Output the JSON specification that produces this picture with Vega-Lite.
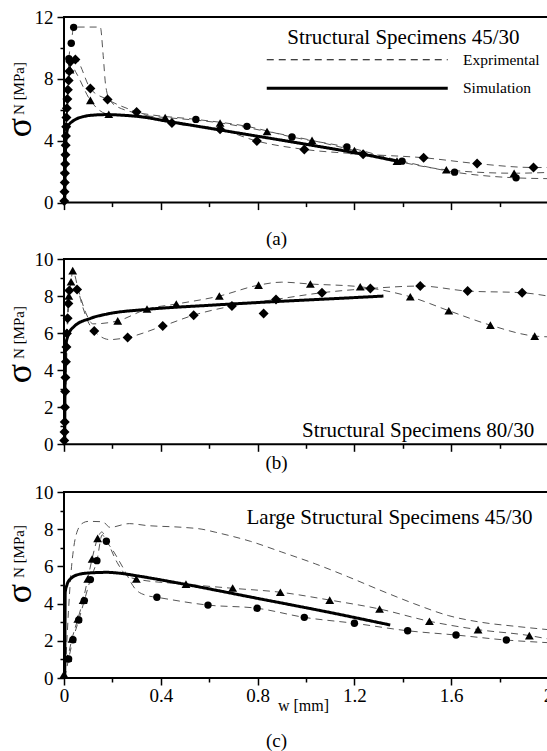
{
  "$schema": "https://vega.github.io/schema/vega-lite/v6.json",
  "background": "white",
  "padding": {"left": 0, "top": 7, "right": 0, "bottom": 0},
  "spacing": 0,
  "config": {
    "view": {"stroke": "black", "strokeWidth": 2},
    "axis": {"grid": false, "domain": false, "tickColor": "black", "tickWidth": 1.5, "labelFont": "Liberation Serif, Tinos, Times New Roman, DejaVu Serif, serif", "labelFontSize": 19, "labelColor": "black", "labelFlush": false, "labelOverlap": false, "titleFont": "Liberation Serif, Tinos, Times New Roman, DejaVu Serif, serif", "titleColor": "black", "titleFontWeight": "normal"},
    "line": {"clip": true}
  },
  "resolve": {"scale": {"strokeDash": "independent", "strokeWidth": "independent"}},
  "datasets": {
    "L": [
      {"p":"a","s":"c","w":0.003,"v":0},{"p":"a","s":"c","w":0.008,"v":3},{"p":"a","s":"c","w":0.014,"v":6},{"p":"a","s":"c","w":0.02,"v":9.3},{"p":"a","s":"c","w":0.03,"v":10.3},{"p":"a","s":"c","w":0.04,"v":11.35},{"p":"a","s":"c","w":0.15,"v":11.35},{"p":"a","s":"c","w":0.162,"v":9.5},{"p":"a","s":"c","w":0.172,"v":7.6},{"p":"a","s":"c","w":0.19,"v":6.6},{"p":"a","s":"c","w":0.25,"v":6.0},{"p":"a","s":"c","w":0.35,"v":5.7},{"p":"a","s":"c","w":0.545,"v":5.38},{"p":"a","s":"c","w":0.756,"v":4.93},{"p":"a","s":"c","w":0.942,"v":4.24},{"p":"a","s":"c","w":1.169,"v":3.59},{"p":"a","s":"c","w":1.397,"v":2.68},{"p":"a","s":"c","w":1.614,"v":1.97},{"p":"a","s":"c","w":1.868,"v":1.6},{"p":"a","s":"c","w":2.0,"v":1.55},
      {"p":"a","s":"t","w":0.002,"v":0},{"p":"a","s":"t","w":0.008,"v":3},{"p":"a","s":"t","w":0.015,"v":6},{"p":"a","s":"t","w":0.022,"v":8.2},{"p":"a","s":"t","w":0.03,"v":8.9},{"p":"a","s":"t","w":0.05,"v":8.4},{"p":"a","s":"t","w":0.109,"v":6.61},{"p":"a","s":"t","w":0.185,"v":5.71},{"p":"a","s":"t","w":0.3,"v":5.65},{"p":"a","s":"t","w":0.418,"v":5.5},{"p":"a","s":"t","w":0.645,"v":5.15},{"p":"a","s":"t","w":0.839,"v":4.6},{"p":"a","s":"t","w":1.025,"v":4.02},{"p":"a","s":"t","w":1.2,"v":3.37},{"p":"a","s":"t","w":1.376,"v":2.68},{"p":"a","s":"t","w":1.58,"v":2.12},{"p":"a","s":"t","w":1.86,"v":1.9},{"p":"a","s":"t","w":2.0,"v":1.95},
      {"p":"a","s":"d","w":0.001,"v":0},{"p":"a","s":"d","w":0.006,"v":3},{"p":"a","s":"d","w":0.012,"v":6},{"p":"a","s":"d","w":0.02,"v":8.5},{"p":"a","s":"d","w":0.03,"v":9.2},{"p":"a","s":"d","w":0.047,"v":9.25},{"p":"a","s":"d","w":0.109,"v":7.37},{"p":"a","s":"d","w":0.18,"v":6.66},{"p":"a","s":"d","w":0.3,"v":5.86},{"p":"a","s":"d","w":0.446,"v":5.14},{"p":"a","s":"d","w":0.645,"v":4.75},{"p":"a","s":"d","w":0.797,"v":3.98},{"p":"a","s":"d","w":0.993,"v":3.44},{"p":"a","s":"d","w":1.236,"v":3.13},{"p":"a","s":"d","w":1.486,"v":2.9},{"p":"a","s":"d","w":1.707,"v":2.52},{"p":"a","s":"d","w":1.94,"v":2.27},{"p":"a","s":"d","w":2.0,"v":2.27},
      {"p":"b","s":"t","w":0.002,"v":0},{"p":"b","s":"t","w":0.008,"v":3},{"p":"b","s":"t","w":0.014,"v":6},{"p":"b","s":"t","w":0.022,"v":8.0},{"p":"b","s":"t","w":0.029,"v":8.77},{"p":"b","s":"t","w":0.036,"v":9.37},{"p":"b","s":"t","w":0.06,"v":8.3},{"p":"b","s":"t","w":0.09,"v":7.1},{"p":"b","s":"t","w":0.12,"v":6.5},{"p":"b","s":"t","w":0.222,"v":6.66},{"p":"b","s":"t","w":0.343,"v":7.3},{"p":"b","s":"t","w":0.464,"v":7.57},{"p":"b","s":"t","w":0.642,"v":8.0},{"p":"b","s":"t","w":0.804,"v":8.59},{"p":"b","s":"t","w":0.9,"v":8.75},{"p":"b","s":"t","w":1.018,"v":8.65},{"p":"b","s":"t","w":1.224,"v":8.5},{"p":"b","s":"t","w":1.431,"v":7.96},{"p":"b","s":"t","w":1.59,"v":7.21},{"p":"b","s":"t","w":1.762,"v":6.43},{"p":"b","s":"t","w":1.945,"v":5.84},{"p":"b","s":"t","w":2.0,"v":5.8},
      {"p":"b","s":"d","w":0.001,"v":0},{"p":"b","s":"d","w":0.006,"v":3},{"p":"b","s":"d","w":0.012,"v":6},{"p":"b","s":"d","w":0.02,"v":8.2},{"p":"b","s":"d","w":0.054,"v":8.36},{"p":"b","s":"d","w":0.075,"v":7.5},{"p":"b","s":"d","w":0.1,"v":6.6},{"p":"b","s":"d","w":0.125,"v":6.12},{"p":"b","s":"d","w":0.19,"v":5.65},{"p":"b","s":"d","w":0.263,"v":5.77},{"p":"b","s":"d","w":0.408,"v":6.38},{"p":"b","s":"d","w":0.536,"v":6.97},{"p":"b","s":"d","w":0.694,"v":7.46},{"p":"b","s":"d","w":0.876,"v":7.82},{"p":"b","s":"d","w":1.066,"v":8.18},{"p":"b","s":"d","w":1.266,"v":8.41},{"p":"b","s":"d","w":1.472,"v":8.54},{"p":"b","s":"d","w":1.668,"v":8.27},{"p":"b","s":"d","w":1.893,"v":8.18},{"p":"b","s":"d","w":2.0,"v":8.0},
      {"p":"c","s":"t","w":0.0,"v":0.2},{"p":"c","s":"t","w":0.015,"v":1.06},{"p":"c","s":"t","w":0.033,"v":2.1},{"p":"c","s":"t","w":0.057,"v":3.17},{"p":"c","s":"t","w":0.079,"v":4.19},{"p":"c","s":"t","w":0.098,"v":5.32},{"p":"c","s":"t","w":0.116,"v":6.4},{"p":"c","s":"t","w":0.139,"v":7.51},{"p":"c","s":"t","w":0.156,"v":7.85},{"p":"c","s":"t","w":0.18,"v":7.3},{"p":"c","s":"t","w":0.22,"v":6.2},{"p":"c","s":"t","w":0.26,"v":5.5},{"p":"c","s":"t","w":0.299,"v":5.32},{"p":"c","s":"t","w":0.495,"v":5.05},{"p":"c","s":"t","w":0.7,"v":4.82},{"p":"c","s":"t","w":0.894,"v":4.61},{"p":"c","s":"t","w":1.098,"v":4.19},{"p":"c","s":"t","w":1.304,"v":3.71},{"p":"c","s":"t","w":1.51,"v":3.05},{"p":"c","s":"t","w":1.711,"v":2.6},{"p":"c","s":"t","w":1.923,"v":2.28},{"p":"c","s":"t","w":2.0,"v":2.1},
      {"p":"c","s":"c","w":0.003,"v":0},{"p":"c","s":"c","w":0.019,"v":1.02},{"p":"c","s":"c","w":0.037,"v":2.06},{"p":"c","s":"c","w":0.061,"v":3.12},{"p":"c","s":"c","w":0.084,"v":4.16},{"p":"c","s":"c","w":0.109,"v":5.29},{"p":"c","s":"c","w":0.136,"v":6.31},{"p":"c","s":"c","w":0.158,"v":7.7},{"p":"c","s":"c","w":0.175,"v":7.35},{"p":"c","s":"c","w":0.2,"v":6.9},{"p":"c","s":"c","w":0.247,"v":5.86},{"p":"c","s":"c","w":0.295,"v":4.78},{"p":"c","s":"c","w":0.343,"v":4.43},{"p":"c","s":"c","w":0.384,"v":4.34},{"p":"c","s":"c","w":0.595,"v":3.92},{"p":"c","s":"c","w":0.798,"v":3.75},{"p":"c","s":"c","w":0.993,"v":3.26},{"p":"c","s":"c","w":1.2,"v":2.94},{"p":"c","s":"c","w":1.42,"v":2.54},{"p":"c","s":"c","w":1.62,"v":2.31},{"p":"c","s":"c","w":1.828,"v":2.04},{"p":"c","s":"c","w":2.0,"v":1.9},
      {"p":"c","s":"u","w":0.004,"v":0},{"p":"c","s":"u","w":0.01,"v":1.5},{"p":"c","s":"u","w":0.018,"v":3.5},{"p":"c","s":"u","w":0.028,"v":5.5},{"p":"c","s":"u","w":0.04,"v":7.0},{"p":"c","s":"u","w":0.055,"v":7.9},{"p":"c","s":"u","w":0.08,"v":8.35},{"p":"c","s":"u","w":0.1,"v":8.42},{"p":"c","s":"u","w":0.16,"v":8.4},{"p":"c","s":"u","w":0.19,"v":8.1},{"p":"c","s":"u","w":0.27,"v":8.3},{"p":"c","s":"u","w":0.34,"v":8.2},{"p":"c","s":"u","w":0.49,"v":8.1},{"p":"c","s":"u","w":0.57,"v":8.0},{"p":"c","s":"u","w":0.625,"v":7.84},{"p":"c","s":"u","w":0.77,"v":7.35},{"p":"c","s":"u","w":0.9,"v":6.77},{"p":"c","s":"u","w":1.04,"v":6.13},{"p":"c","s":"u","w":1.176,"v":5.43},{"p":"c","s":"u","w":1.314,"v":4.68},{"p":"c","s":"u","w":1.45,"v":3.98},{"p":"c","s":"u","w":1.59,"v":3.35},{"p":"c","s":"u","w":1.727,"v":2.99},{"p":"c","s":"u","w":1.864,"v":2.78},{"p":"c","s":"u","w":2.0,"v":2.6}
    ],
    "S": [
      {"p":"a","w":0.003,"v":0},{"p":"a","w":0.005,"v":2.5},{"p":"a","w":0.009,"v":4.2},{"p":"a","w":0.019,"v":4.99},{"p":"a","w":0.035,"v":5.25},{"p":"a","w":0.054,"v":5.43},{"p":"a","w":0.08,"v":5.56},{"p":"a","w":0.109,"v":5.64},{"p":"a","w":0.178,"v":5.69},{"p":"a","w":0.25,"v":5.64},{"p":"a","w":0.3,"v":5.58},{"p":"a","w":0.446,"v":5.21},{"p":"a","w":0.7,"v":4.55},{"p":"a","w":1.0,"v":3.77},{"p":"a","w":1.231,"v":3.14},{"p":"a","w":1.397,"v":2.61},
      {"p":"b","w":0.003,"v":0},{"p":"b","w":0.004,"v":3},{"p":"b","w":0.006,"v":5.2},{"p":"b","w":0.015,"v":5.8},{"p":"b","w":0.04,"v":6.34},{"p":"b","w":0.11,"v":6.8},{"p":"b","w":0.178,"v":7.03},{"p":"b","w":0.343,"v":7.28},{"p":"b","w":0.6,"v":7.5},{"p":"b","w":0.9,"v":7.72},{"p":"b","w":1.1,"v":7.85},{"p":"b","w":1.32,"v":8.0},
      {"p":"c","w":0.003,"v":0},{"p":"c","w":0.004,"v":2.5},{"p":"c","w":0.005,"v":4.6},{"p":"c","w":0.012,"v":5.0},{"p":"c","w":0.026,"v":5.32},{"p":"c","w":0.067,"v":5.59},{"p":"c","w":0.12,"v":5.66},{"p":"c","w":0.178,"v":5.68},{"p":"c","w":0.25,"v":5.6},{"p":"c","w":0.299,"v":5.5},{"p":"c","w":0.495,"v":5.05},{"p":"c","w":0.8,"v":4.28},{"p":"c","w":1.1,"v":3.52},{"p":"c","w":1.348,"v":2.85}
    ],
    "P": [
      {"p":"a","s":"c","w":0.02,"v":9.3},{"p":"a","s":"c","w":0.03,"v":10.3},{"p":"a","s":"c","w":0.04,"v":11.33},{"p":"a","s":"c","w":0.545,"v":5.38},{"p":"a","s":"c","w":0.756,"v":4.93},{"p":"a","s":"c","w":0.942,"v":4.24},{"p":"a","s":"c","w":1.169,"v":3.59},{"p":"a","s":"c","w":1.397,"v":2.68},{"p":"a","s":"c","w":1.614,"v":1.97},{"p":"a","s":"c","w":1.868,"v":1.6},
      {"p":"a","s":"t","w":0.025,"v":8.6},{"p":"a","s":"t","w":0.109,"v":6.61},{"p":"a","s":"t","w":0.185,"v":5.71},{"p":"a","s":"t","w":0.418,"v":5.5},{"p":"a","s":"t","w":0.645,"v":5.15},{"p":"a","s":"t","w":0.839,"v":4.6},{"p":"a","s":"t","w":1.025,"v":4.02},{"p":"a","s":"t","w":1.2,"v":3.37},{"p":"a","s":"t","w":1.376,"v":2.68},{"p":"a","s":"t","w":1.58,"v":2.12},{"p":"a","s":"t","w":1.86,"v":1.9},
      {"p":"a","s":"d","w":0.001,"v":0.1},{"p":"a","s":"d","w":0.002,"v":0.7},{"p":"a","s":"d","w":0.003,"v":1.3},{"p":"a","s":"d","w":0.004,"v":1.9},{"p":"a","s":"d","w":0.005,"v":2.5},{"p":"a","s":"d","w":0.006,"v":3.1},{"p":"a","s":"d","w":0.007,"v":3.7},{"p":"a","s":"d","w":0.008,"v":4.3},{"p":"a","s":"d","w":0.009,"v":4.9},{"p":"a","s":"d","w":0.01,"v":5.5},{"p":"a","s":"d","w":0.012,"v":6.1},{"p":"a","s":"d","w":0.014,"v":6.7},{"p":"a","s":"d","w":0.016,"v":7.3},{"p":"a","s":"d","w":0.019,"v":7.9},{"p":"a","s":"d","w":0.022,"v":8.5},{"p":"a","s":"d","w":0.026,"v":9.1},{"p":"a","s":"d","w":0.047,"v":9.25},{"p":"a","s":"d","w":0.109,"v":7.37},{"p":"a","s":"d","w":0.18,"v":6.66},{"p":"a","s":"d","w":0.3,"v":5.86},{"p":"a","s":"d","w":0.446,"v":5.14},{"p":"a","s":"d","w":0.645,"v":4.75},{"p":"a","s":"d","w":0.797,"v":3.98},{"p":"a","s":"d","w":0.993,"v":3.44},{"p":"a","s":"d","w":1.236,"v":3.13},{"p":"a","s":"d","w":1.486,"v":2.9},{"p":"a","s":"d","w":1.707,"v":2.52},{"p":"a","s":"d","w":1.94,"v":2.27},
      {"p":"b","s":"t","w":0.02,"v":8.0},{"p":"b","s":"t","w":0.029,"v":8.77},{"p":"b","s":"t","w":0.036,"v":9.37},{"p":"b","s":"t","w":0.222,"v":6.66},{"p":"b","s":"t","w":0.343,"v":7.3},{"p":"b","s":"t","w":0.464,"v":7.57},{"p":"b","s":"t","w":0.642,"v":8.0},{"p":"b","s":"t","w":0.804,"v":8.59},{"p":"b","s":"t","w":1.018,"v":8.65},{"p":"b","s":"t","w":1.224,"v":8.5},{"p":"b","s":"t","w":1.431,"v":7.96},{"p":"b","s":"t","w":1.59,"v":7.21},{"p":"b","s":"t","w":1.762,"v":6.43},{"p":"b","s":"t","w":1.945,"v":5.84},
      {"p":"b","s":"d","w":0.001,"v":0.2},{"p":"b","s":"d","w":0.002,"v":0.66},{"p":"b","s":"d","w":0.003,"v":1.2},{"p":"b","s":"d","w":0.004,"v":2.0},{"p":"b","s":"d","w":0.005,"v":2.85},{"p":"b","s":"d","w":0.006,"v":3.6},{"p":"b","s":"d","w":0.008,"v":4.45},{"p":"b","s":"d","w":0.01,"v":5.25},{"p":"b","s":"d","w":0.012,"v":5.98},{"p":"b","s":"d","w":0.015,"v":6.8},{"p":"b","s":"d","w":0.018,"v":7.6},{"p":"b","s":"d","w":0.022,"v":8.3},{"p":"b","s":"d","w":0.054,"v":8.36},{"p":"b","s":"d","w":0.125,"v":6.12},{"p":"b","s":"d","w":0.263,"v":5.77},{"p":"b","s":"d","w":0.408,"v":6.38},{"p":"b","s":"d","w":0.536,"v":6.97},{"p":"b","s":"d","w":0.694,"v":7.46},{"p":"b","s":"d","w":0.825,"v":7.06},{"p":"b","s":"d","w":0.876,"v":7.82},{"p":"b","s":"d","w":1.066,"v":8.18},{"p":"b","s":"d","w":1.266,"v":8.41},{"p":"b","s":"d","w":1.472,"v":8.54},{"p":"b","s":"d","w":1.668,"v":8.27},{"p":"b","s":"d","w":1.893,"v":8.18},
      {"p":"c","s":"t","w":0.0,"v":0.2},{"p":"c","s":"t","w":0.015,"v":1.06},{"p":"c","s":"t","w":0.033,"v":2.1},{"p":"c","s":"t","w":0.057,"v":3.17},{"p":"c","s":"t","w":0.079,"v":4.19},{"p":"c","s":"t","w":0.098,"v":5.32},{"p":"c","s":"t","w":0.116,"v":6.4},{"p":"c","s":"t","w":0.139,"v":7.51},{"p":"c","s":"t","w":0.299,"v":5.32},{"p":"c","s":"t","w":0.504,"v":5.05},{"p":"c","s":"t","w":0.697,"v":4.84},{"p":"c","s":"t","w":0.894,"v":4.61},{"p":"c","s":"t","w":1.098,"v":4.19},{"p":"c","s":"t","w":1.304,"v":3.71},{"p":"c","s":"t","w":1.51,"v":3.05},{"p":"c","s":"t","w":1.711,"v":2.6},{"p":"c","s":"t","w":1.923,"v":2.28},
      {"p":"c","s":"c","w":0.019,"v":1.02},{"p":"c","s":"c","w":0.037,"v":2.06},{"p":"c","s":"c","w":0.061,"v":3.12},{"p":"c","s":"c","w":0.084,"v":4.16},{"p":"c","s":"c","w":0.109,"v":5.29},{"p":"c","s":"c","w":0.136,"v":6.31},{"p":"c","s":"c","w":0.175,"v":7.35},{"p":"c","s":"c","w":0.384,"v":4.34},{"p":"c","s":"c","w":0.595,"v":3.92},{"p":"c","s":"c","w":0.798,"v":3.75},{"p":"c","s":"c","w":0.993,"v":3.26},{"p":"c","s":"c","w":1.2,"v":2.94},{"p":"c","s":"c","w":1.42,"v":2.54},{"p":"c","s":"c","w":1.62,"v":2.31},{"p":"c","s":"c","w":1.828,"v":2.04}
    ]
  },
  "vconcat": [
    {
      "width": 484, "height": 185.6,
      "resolve": {"axis": {"x": "independent", "y": "independent"}},
      "layer": [
        {
          "data": {"name": "L"},
          "transform": [{"filter": "datum.p === 'a'"}],
          "mark": {"type": "line", "color": "#555", "interpolate": "monotone"},
          "encoding": {
            "x": {"field": "w", "type": "quantitative", "scale": {"domain": [0, 2], "nice": false},
              "axis": {"orient": "bottom", "values": [0,0.2,0.4,0.6,0.8,1,1.2,1.4,1.6,1.8,2], "labels": false,
                "tickSize": {"condition": {"test": "round(datum.value*10) % 4 === 0", "value": 7}, "value": 4},
                "title": "(a)", "titleFontSize": 19, "titleX": 212, "titleY": 35.4, "titleBaseline": "middle", "titleAlign": "center"}},
            "y": {"field": "v", "type": "quantitative", "scale": {"domain": [0, 12], "nice": false},
              "axis": {"orient": "left", "values": [0,2,4,6,8,10,12], "labelExpr": "datum.value % 4 === 0 ? datum.label : ''", "labelPadding": 4,
                "tickSize": {"condition": {"test": "datum.value % 4 === 0", "value": 7}, "value": 4},
                "title": "σ", "titleFontSize": 36, "titleAngle": 270, "titleX": -34, "titleY": 110, "titleBaseline": "alphabetic", "titleAlign": "center"}},
            "detail": {"field": "s"},
            "strokeDash": {"datum": "Exprimental", "type": "nominal", "scale": {"domain": ["Exprimental", "Simulation"], "range": [[7, 5], [1, 0]]},
              "legend": {"orient": "none", "legendX": 285.5, "legendY": 35, "title": null, "padding": 0, "rowPadding": 11.5, "labelOffset": 98, "labelFont": "Liberation Serif, Tinos, Times New Roman, DejaVu Serif, serif", "labelFontSize": 15.5, "labelColor": "black", "symbolType": "M-18.1,0H18.1", "symbolSize": 100, "symbolStrokeColor": "black", "symbolFillColor": "transparent"}},
            "strokeWidth": {"datum": "Exprimental", "type": "ordinal", "scale": {"domain": ["Exprimental", "Simulation"], "range": [1, 3]},
              "legend": {"orient": "none", "legendX": 285.5, "legendY": 35, "title": null, "padding": 0, "rowPadding": 11.5, "labelOffset": 98, "labelFont": "Liberation Serif, Tinos, Times New Roman, DejaVu Serif, serif", "labelFontSize": 15.5, "labelColor": "black", "symbolType": "M-18.1,0H18.1", "symbolSize": 100, "symbolStrokeColor": "black", "symbolFillColor": "transparent"}}
          }
        },
        {
          "data": {"name": "P"},
          "transform": [{"filter": "datum.p === 'a'"}],
          "mark": {"type": "point", "filled": true, "color": "black", "opacity": 1},
          "encoding": {
            "x": {"field": "w", "type": "quantitative", "scale": {"domain": [0, 2], "nice": false}, "axis": null},
            "y": {"field": "v", "type": "quantitative", "scale": {"domain": [0, 12], "nice": false},
              "axis": {"orient": "left", "labels": false, "ticks": false, "tickSize": 0, "title": "N [MPa]", "titleFontSize": 15, "titleAngle": 270, "titleX": -41, "titleY": 71, "titleBaseline": "alphabetic", "titleAlign": "center"}},
            "shape": {"field": "s", "type": "nominal", "scale": {"domain": ["c", "t", "d"], "range": ["circle", "triangle-up", "diamond"]}, "legend": null},
            "size": {"field": "s", "type": "nominal", "scale": {"domain": ["c", "t", "d"], "range": [55, 100, 110]}, "legend": null}
          }
        },
        {
          "data": {"name": "S"},
          "transform": [{"filter": "datum.p === 'a'"}],
          "mark": {"type": "line", "color": "black", "interpolate": "monotone"},
          "encoding": {
            "x": {"field": "w", "type": "quantitative", "scale": {"domain": [0, 2], "nice": false},
              "axis": {"orient": "top", "labels": false, "ticks": false, "title": "Structural Specimens 45/30", "titleFontSize": 21, "titleX": 455, "titleY": 26.3, "titleAlign": "right", "titleBaseline": "alphabetic", "titleAngle": 0}},
            "y": {"field": "v", "type": "quantitative", "scale": {"domain": [0, 12], "nice": false}, "axis": null},
            "strokeDash": {"datum": "Simulation", "type": "nominal"},
            "strokeWidth": {"datum": "Simulation", "type": "ordinal"}
          }
        }
      ]
    },
    {
      "width": 484, "height": 185.3,
      "resolve": {"axis": {"x": "independent", "y": "independent"}},
      "layer": [
        {
          "data": {"name": "L"},
          "transform": [{"filter": "datum.p === 'b'"}],
          "mark": {"type": "line", "color": "#555", "interpolate": "monotone"},
          "encoding": {
            "x": {"field": "w", "type": "quantitative", "scale": {"domain": [0, 2], "nice": false},
              "axis": {"orient": "bottom", "values": [0,0.2,0.4,0.6,0.8,1,1.2,1.4,1.6,1.8,2], "labels": false,
                "tickSize": {"condition": {"test": "round(datum.value*10) % 4 === 0", "value": 7}, "value": 4},
                "title": "(b)", "titleFontSize": 19, "titleX": 212, "titleY": 17.7, "titleBaseline": "middle", "titleAlign": "center"}},
            "y": {"field": "v", "type": "quantitative", "scale": {"domain": [0, 10], "nice": false},
              "axis": {"orient": "left", "values": [0,1,2,3,4,5,6,7,8,9,10], "labelExpr": "datum.value % 2 === 0 ? datum.label : ''", "labelPadding": 4,
                "tickSize": {"condition": {"test": "datum.value % 2 === 0", "value": 7}, "value": 4},
                "title": "σ", "titleFontSize": 36, "titleAngle": 270, "titleX": -34, "titleY": 114, "titleBaseline": "alphabetic", "titleAlign": "center"}},
            "detail": {"field": "s"},
            "strokeDash": {"datum": "Exprimental", "type": "nominal", "scale": {"domain": ["Exprimental", "Simulation"], "range": [[7, 5], [1, 0]]}, "legend": null},
            "strokeWidth": {"datum": "Exprimental", "type": "ordinal", "scale": {"domain": ["Exprimental", "Simulation"], "range": [1, 3]}, "legend": null}
          }
        },
        {
          "data": {"name": "P"},
          "transform": [{"filter": "datum.p === 'b'"}],
          "mark": {"type": "point", "filled": true, "color": "black", "opacity": 1},
          "encoding": {
            "x": {"field": "w", "type": "quantitative", "scale": {"domain": [0, 2], "nice": false},
              "axis": {"orient": "bottom", "values": [1], "ticks": false, "tickSize": 0, "labelExpr": "' '", "labelPadding": 17.2, "labelFontSize": 19, "title": null}},
            "y": {"field": "v", "type": "quantitative", "scale": {"domain": [0, 10], "nice": false},
              "axis": {"orient": "left", "labels": false, "ticks": false, "tickSize": 0, "title": "N [MPa]", "titleFontSize": 15, "titleAngle": 270, "titleX": -41, "titleY": 73, "titleBaseline": "alphabetic", "titleAlign": "center"}},
            "shape": {"field": "s", "type": "nominal", "scale": {"domain": ["c", "t", "d"], "range": ["circle", "triangle-up", "diamond"]}, "legend": null},
            "size": {"field": "s", "type": "nominal", "scale": {"domain": ["c", "t", "d"], "range": [55, 100, 110]}, "legend": null}
          }
        },
        {
          "data": {"name": "S"},
          "transform": [{"filter": "datum.p === 'b'"}],
          "mark": {"type": "line", "color": "black", "interpolate": "monotone"},
          "encoding": {
            "x": {"field": "w", "type": "quantitative", "scale": {"domain": [0, 2], "nice": false},
              "axis": {"orient": "top", "labels": false, "ticks": false, "title": "Structural Specimens 80/30", "titleFontSize": 21, "titleX": 469.7, "titleY": 177.7, "titleAlign": "right", "titleBaseline": "alphabetic", "titleAngle": 0}},
            "y": {"field": "v", "type": "quantitative", "scale": {"domain": [0, 10], "nice": false}, "axis": null},
            "strokeDash": {"datum": "Simulation", "type": "nominal", "legend": null},
            "strokeWidth": {"datum": "Simulation", "type": "ordinal", "legend": null}
          }
        }
      ]
    },
    {
      "width": 484, "height": 186,
      "resolve": {"axis": {"x": "independent", "y": "independent"}},
      "layer": [
        {
          "data": {"name": "L"},
          "transform": [{"filter": "datum.p === 'c'"}],
          "mark": {"type": "line", "color": "#555", "interpolate": "monotone"},
          "encoding": {
            "x": {"field": "w", "type": "quantitative", "scale": {"domain": [0, 2], "nice": false},
              "axis": {"orient": "bottom", "values": [0,0.2,0.4,0.6,0.8,1,1.2,1.4,1.6,1.8,2], "labelPadding": 1,
                "labelExpr": "round(datum.value*10) % 4 === 0 ? format(datum.value, '~g') : ''",
                "tickSize": {"condition": {"test": "round(datum.value*10) % 4 === 0", "value": 7}, "value": 4},
                "title": "(c)", "titleFontSize": 19, "titleX": 212, "titleY": 62.7, "titleBaseline": "middle", "titleAlign": "center"}},
            "y": {"field": "v", "type": "quantitative", "scale": {"domain": [0, 10], "nice": false},
              "axis": {"orient": "left", "values": [0,1,2,3,4,5,6,7,8,9,10], "labelExpr": "datum.value % 2 === 0 ? datum.label : ''", "labelPadding": 4,
                "tickSize": {"condition": {"test": "datum.value % 2 === 0", "value": 7}, "value": 4},
                "title": "σ", "titleFontSize": 36, "titleAngle": 270, "titleX": -34, "titleY": 101, "titleBaseline": "alphabetic", "titleAlign": "center"}},
            "detail": {"field": "s"},
            "strokeDash": {"datum": "Exprimental", "type": "nominal", "scale": {"domain": ["Exprimental", "Simulation"], "range": [[7, 5], [1, 0]]}, "legend": null},
            "strokeWidth": {"datum": "Exprimental", "type": "ordinal", "scale": {"domain": ["Exprimental", "Simulation"], "range": [1, 3]}, "legend": null}
          }
        },
        {
          "data": {"name": "P"},
          "transform": [{"filter": "datum.p === 'c'"}],
          "mark": {"type": "point", "filled": true, "color": "black", "opacity": 1},
          "encoding": {
            "x": {"field": "w", "type": "quantitative", "scale": {"domain": [0, 2], "nice": false},
              "axis": {"orient": "bottom", "labels": false, "ticks": false, "tickSize": 0, "title": "w [mm]", "titleFontSize": 16, "titleX": 239, "titleY": 32.4, "titleBaseline": "alphabetic", "titleAlign": "center"}},
            "y": {"field": "v", "type": "quantitative", "scale": {"domain": [0, 10], "nice": false},
              "axis": {"orient": "left", "labels": false, "ticks": false, "tickSize": 0, "title": "N [MPa]", "titleFontSize": 15, "titleAngle": 270, "titleX": -41, "titleY": 59, "titleBaseline": "alphabetic", "titleAlign": "center"}},
            "shape": {"field": "s", "type": "nominal", "scale": {"domain": ["c", "t", "d"], "range": ["circle", "triangle-up", "diamond"]}, "legend": null},
            "size": {"field": "s", "type": "nominal", "scale": {"domain": ["c", "t", "d"], "range": [55, 100, 110]}, "legend": null}
          }
        },
        {
          "data": {"name": "S"},
          "transform": [{"filter": "datum.p === 'c'"}],
          "mark": {"type": "line", "color": "black", "interpolate": "monotone"},
          "encoding": {
            "x": {"field": "w", "type": "quantitative", "scale": {"domain": [0, 2], "nice": false},
              "axis": {"orient": "top", "labels": false, "ticks": false, "title": "Large Structural Specimens 45/30", "titleFontSize": 21, "titleX": 468, "titleY": 31, "titleAlign": "right", "titleBaseline": "alphabetic", "titleAngle": 0}},
            "y": {"field": "v", "type": "quantitative", "scale": {"domain": [0, 10], "nice": false}, "axis": null},
            "strokeDash": {"datum": "Simulation", "type": "nominal", "legend": null},
            "strokeWidth": {"datum": "Simulation", "type": "ordinal", "legend": null}
          }
        }
      ]
    }
  ]
}
